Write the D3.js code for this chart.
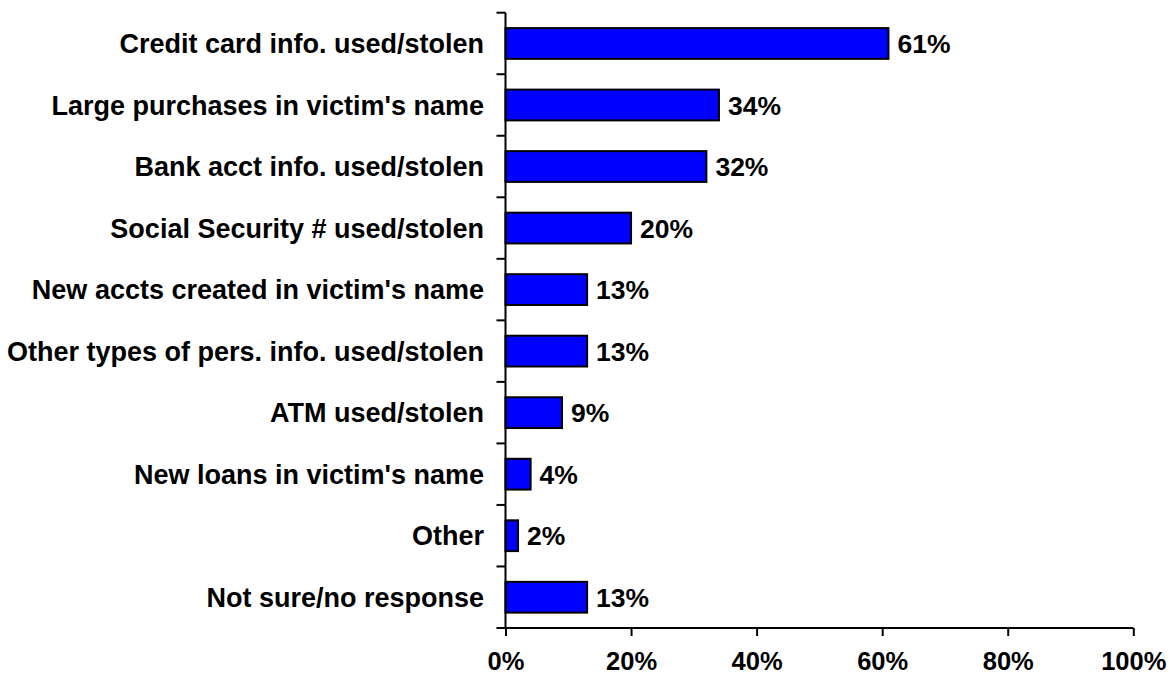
<!DOCTYPE html>
<html>
<head>
<meta charset="utf-8">
<script src="https://cdn.jsdelivr.net/npm/d3@7"></script>
<style>
  html, body { margin: 0; padding: 0; background: #fff; }
  svg { display: block; }
  text { font-family: "Liberation Sans", Arial, sans-serif; font-weight: bold; fill: #000; }
</style>
</head>
<body>
<svg id="chart" width="1173" height="681"></svg>
<script>
const categories = [
  "Credit card info. used/stolen",
  "Large purchases in victim's name",
  "Bank acct info. used/stolen",
  "Social Security # used/stolen",
  "New accts created in victim's name",
  "Other types of pers. info. used/stolen",
  "ATM used/stolen",
  "New loans in victim's name",
  "Other",
  "Not sure/no response"
];
const values = [61, 34, 32, 20, 13, 13, 9, 4, 2, 13];
const xTicks = [0, 20, 40, 60, 80, 100];

(function () {
  const svg = d3.select("#chart");
  const plotLeft = 505.5, plotRight = 1133.3, plotTop = 12.7, plotBottom = 628;

  const x = d3.scaleLinear().domain([0, 100]).range([plotLeft, plotRight]);
  const y = d3.scaleBand().domain(categories).range([plotTop, plotBottom])
    .paddingInner(0.5).paddingOuter(0.25);

  // bars
  svg.append("g").selectAll("rect")
    .data(values)
    .join("rect")
    .attr("x", x(0))
    .attr("y", (d, i) => y(categories[i]))
    .attr("width", d => x(d) - x(0))
    .attr("height", y.bandwidth())
    .attr("fill", "#0000ff")
    .attr("stroke", "#000")
    .attr("stroke-width", 2);

  // value labels
  svg.append("g").selectAll("text")
    .data(values)
    .join("text")
    .attr("x", d => x(d) + 9)
    .attr("y", (d, i) => y(categories[i]) + y.bandwidth() / 2)
    .attr("dy", "0.36em")
    .style("font-size", "26.5px")
    .text(d => d + "%");

  // y axis with ticks at band boundaries
  const step = (plotBottom - plotTop) / categories.length;
  const yAxis = svg.append("g");
  yAxis.append("line")
    .attr("x1", plotLeft).attr("x2", plotLeft)
    .attr("y1", plotTop).attr("y2", plotBottom)
    .attr("stroke", "#000").attr("stroke-width", 2);
  yAxis.selectAll("line.tick")
    .data(d3.range(categories.length + 1))
    .join("line")
    .attr("class", "tick")
    .attr("x1", plotLeft - 9).attr("x2", plotLeft)
    .attr("y1", i => plotTop + i * step).attr("y2", i => plotTop + i * step)
    .attr("stroke", "#000").attr("stroke-width", 2);
  yAxis.selectAll("text")
    .data(categories)
    .join("text")
    .attr("x", 484)
    .attr("y", d => y(d) + y.bandwidth() / 2)
    .attr("dy", "0.36em")
    .attr("text-anchor", "end")
    .style("font-size", "27px")
    .text(d => d);

  // x axis
  const xAxis = svg.append("g").attr("transform", `translate(0,${plotBottom})`)
    .call(d3.axisBottom(x).tickValues(xTicks).tickFormat(d => d + "%").tickSize(8).tickPadding(16));
  xAxis.select(".domain").attr("stroke", "#000").attr("stroke-width", 2)
    .attr("d", `M${plotLeft},0H${plotRight}`);
  xAxis.selectAll(".tick line").attr("stroke", "#000").attr("stroke-width", 2);
  xAxis.selectAll(".tick text")
    .style("font-size", "25.5px")
    .style("font-family", "'Liberation Sans', Arial, sans-serif")
    .style("font-weight", "bold")
    .attr("fill", "#000");
})();
</script>
</body>
</html>
